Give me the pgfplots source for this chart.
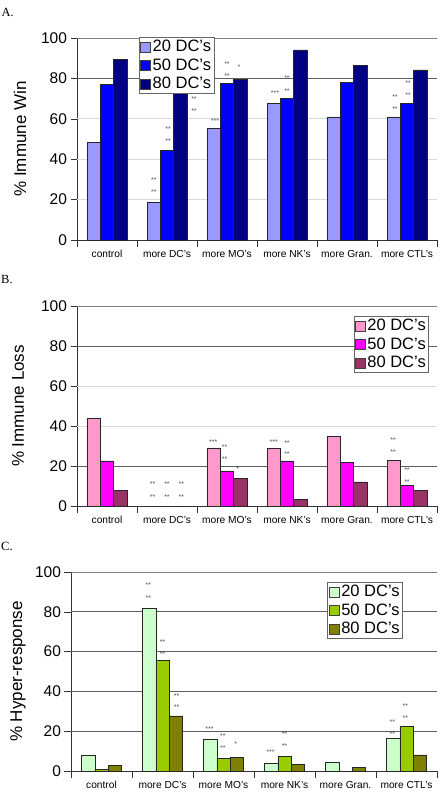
\documentclass[border=0pt]{standalone}
\usepackage{fontspec}
\setmainfont{Liberation Sans}
\newfontfamily\seriffont{Liberation Serif}
\usepackage{pgfplots}
\pgfplotsset{compat=1.18}

% Excel-style palette
\definecolor{winA}{HTML}{9999FF}
\definecolor{winB}{HTML}{0000FF}
\definecolor{winC}{HTML}{000080}
\definecolor{lossA}{HTML}{FF99CC}
\definecolor{lossB}{HTML}{FF00FF}
\definecolor{lossC}{HTML}{993366}
\definecolor{hypA}{HTML}{CCFFCC}
\definecolor{hypB}{HTML}{99CC00}
\definecolor{hypC}{HTML}{808000}
\definecolor{gridlight}{HTML}{DADADA}
\definecolor{griddark}{HTML}{5E5E5E}

\pgfplotsset{
  dcpanel/.style={
    scale only axis,
    ybar=0pt, bar width=13.3pt,
    xmin=-0.5, xmax=5.5, ymin=0, ymax=100,
    ytick={0,20,...,100},
    xtick={-0.5,0.5,...,5.5},
    x tick label as interval,
    xticklabels={control, more DC's, more MO's, more NK's, more Gran., more CTL's},
    major tick length=6.5pt,
    tick align=outside,
    tick style={draw=black!80, line width=0.6pt},
    axis lines*=left,
    axis line style={-, draw=black!80, line width=0.8pt},
    /pgf/number format/assume math mode=true,
    yticklabel style={font=\fontsize{15.5}{16}\selectfont},
    xticklabel style={font=\fontsize{10.2}{11}\selectfont},
    ylabel style={font=\fontsize{17}{18}\selectfont, anchor=center},
    every axis plot/.append style={draw=black!85, line width=0.6pt},
    legend cell align=left,
    legend image code/.code={\draw[#1, draw=black!75, line width=0.5pt] (0pt,-5pt) rectangle (10pt,5pt);},
    legend style={draw=black!60, line width=0.6pt, fill=white,
      font=\fontsize{16.5}{18}\selectfont, inner sep=1pt,
      nodes={inner sep=2pt}, row sep=1.5pt,
      /tikz/every even column/.append style={column sep=0pt}},
  },
}
% significance asterisks
\newcommand{\sg}[3]{\node[font=\fontsize{7}{7}\selectfont, text=black!68, inner sep=0pt] at (axis cs:#1,#2) {#3};}
% horizontal gridlines (light and dark) and the grey top/right frame
\newcommand{\lightline}[1]{\draw[draw=gridlight, line width=0.7pt] (axis cs:-0.5,#1) -- (axis cs:5.5,#1);}
\newcommand{\darkline}[1]{\draw[draw=griddark, line width=0.9pt] (axis cs:-0.5,#1) -- (axis cs:5.5,#1);}
\newcommand{\frameTR}{\draw[draw=black!50, line width=0.6pt] (rel axis cs:0,1) -- (rel axis cs:1,1) -- (rel axis cs:1,0);}

\begin{document}
\begin{tikzpicture}
\path[use as bounding box] (0,0) rectangle (442pt,-801pt);

\node[anchor=west, font=\seriffont\fontsize{12.5}{13}\selectfont, inner sep=0pt] at (1.5pt,-12.5pt) {A.};
\node[anchor=west, font=\seriffont\fontsize{12.5}{13}\selectfont, inner sep=0pt] at (1pt,-279pt) {B.};
\node[anchor=west, font=\seriffont\fontsize{12.5}{13}\selectfont, inner sep=0pt] at (1pt,-546pt) {C.};

% ---------- A: immune win ----------
\begin{axis}[dcpanel,
  at={(77pt,-240pt)}, anchor=south west, width=360pt, height=202pt,
  ylabel={\% Immune Win},
  ylabel style={at={(axis description cs:-0.158,0.5)}},
  legend style={at={(axis description cs:0.172,1.005)}, anchor=north west},
]
\lightline{20}\lightline{40}\lightline{60}\darkline{80}
\addplot[fill=winA] coordinates {(0,48.2) (1,18.5) (2,55.1) (3,67.7) (4,60.9) (5,60.9)};
\addplot[fill=winB] coordinates {(0,76.9) (1,44.4) (2,77.7) (3,70.1) (4,78.2) (5,67.5)};
\addplot[fill=winC] coordinates {(0,89.3) (1,72.4) (2,79.5) (3,94.1) (4,86.3) (5,84.2)};
\legend{20 DC's, 50 DC's, 80 DC's}
\frameTR
\sg{0.78}{29.7}{**}\sg{0.78}{23.8}{**}
\sg{1.02}{55.0}{**}\sg{1.02}{49.0}{**}
\sg{1.45}{69.8}{**}\sg{1.45}{63.9}{**}
\sg{1.80}{58.9}{***}
\sg{2.00}{87.1}{**}\sg{2.00}{81.2}{**}
\sg{2.20}{85.6}{*}
\sg{2.80}{72.8}{***}
\sg{3.00}{80.2}{**}\sg{3.00}{73.8}{**}
\sg{4.80}{70.8}{**}\sg{4.80}{64.9}{**}
\sg{5.02}{77.7}{**}\sg{5.02}{71.8}{**}
\end{axis}

% ---------- B: immune loss ----------
\begin{axis}[dcpanel,
  at={(77pt,-506pt)}, anchor=south west, width=360pt, height=200pt,
  ylabel={\% Immune Loss},
  ylabel style={at={(axis description cs:-0.164,0.5)}},
  legend style={at={(axis description cs:0.978,0.95)}, anchor=north east},
]
\darkline{20}\lightline{40}\lightline{60}\darkline{80}
\addplot[fill=lossA] coordinates {(0,43.8) (1,0) (2,29.1) (3,28.8) (4,34.9) (5,23.0)};
\addplot[fill=lossB] coordinates {(0,22.6) (1,0) (2,17.6) (3,22.6) (4,22.0) (5,10.3)};
\addplot[fill=lossC] coordinates {(0,8.0) (1,0) (2,14.0) (3,3.3) (4,12.1) (5,8.0)};
\legend{20 DC's, 50 DC's, 80 DC's}
\frameTR
\sg{0.76}{11.0}{**}\sg{0.76}{4.7}{**}
\sg{1.00}{11.0}{**}\sg{1.00}{4.7}{**}
\sg{1.24}{11.0}{**}\sg{1.24}{4.7}{**}
\sg{1.77}{32.1}{***}
\sg{1.96}{29.6}{**}\sg{1.96}{23.5}{**}
\sg{2.18}{18.3}{*}
\sg{2.78}{32.1}{***}
\sg{3.00}{31.6}{**}\sg{3.00}{25.8}{**}
\sg{4.77}{32.9}{**}\sg{4.77}{26.8}{**}
\sg{5.00}{18.0}{**}\sg{5.00}{12.0}{**}
\end{axis}

% ---------- C: hyper-response ----------
\begin{axis}[dcpanel,
  at={(71pt,-771pt)}, anchor=south west, width=366pt, height=199pt,
  ylabel={\% Hyper-response},
  ylabel style={at={(axis description cs:-0.145,0.5)}},
  legend style={at={(axis description cs:0.907,0.95)}, anchor=north east},
]
\darkline{20}\darkline{40}\darkline{60}\darkline{80}
\addplot[fill=hypA] coordinates {(0,8.1) (1,81.9) (2,16.1) (3,3.7) (4,4.4) (5,16.3)};
\addplot[fill=hypB] coordinates {(0,0.8) (1,55.7) (2,6.2) (3,7.4) (4,0) (5,22.3)};
\addplot[fill=hypC] coordinates {(0,3.0) (1,27.7) (2,6.9) (3,3.2) (4,1.8) (5,8.1)};
\legend{20 DC's, 50 DC's, 80 DC's}
\frameTR
\sg{0.77}{93.5}{**}\sg{0.77}{87.1}{**}
\sg{1.00}{64.9}{**}\sg{1.00}{58.7}{**}
\sg{1.23}{37.8}{**}\sg{1.23}{31.9}{**}
\sg{1.77}{21.1}{***}
\sg{1.99}{17.6}{**}\sg{1.99}{11.6}{**}
\sg{2.20}{13.4}{*}
\sg{2.77}{9.7}{***}
\sg{3.00}{18.8}{**}\sg{3.00}{12.6}{**}
\sg{4.77}{24.5}{**}\sg{4.77}{18.5}{**}
\sg{4.98}{32.7}{**}\sg{4.98}{26.8}{**}
\end{axis}
\end{tikzpicture}
\end{document}
